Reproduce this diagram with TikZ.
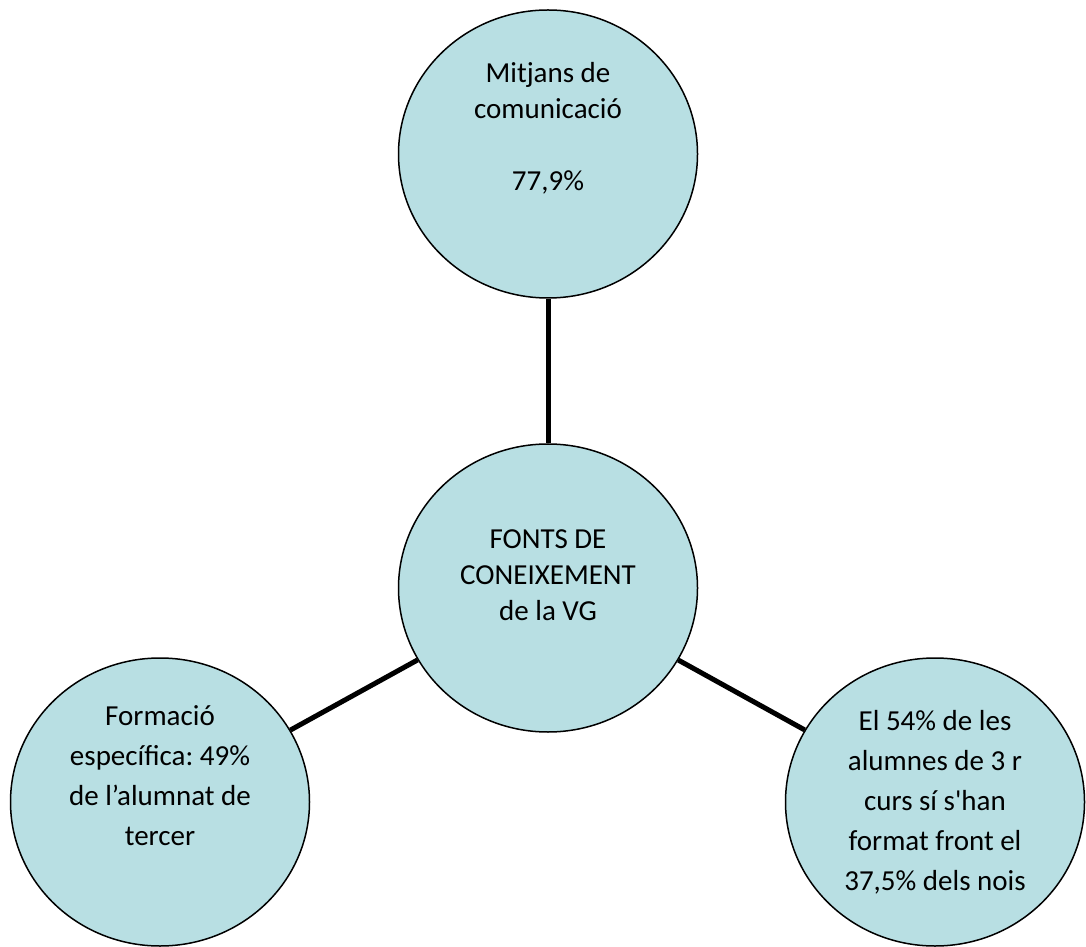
\documentclass[tikz,border=0pt]{standalone}
\usepackage{fontspec}
\setmainfont{Carlito}[Ligatures=TeXOff]
\usetikzlibrary{shapes.geometric}
\definecolor{bubblefill}{HTML}{B8DFE3}
\frenchspacing

\begin{document}
\begin{tikzpicture}[x=1pt,y=1pt,
        bubble/.style={ellipse,draw=black,line width=1.5pt,fill=bubblefill,
            minimum width=299pt,minimum height=288pt,inner sep=0pt,
            align=center,font=\fontsize{29}{36}\selectfont},
        wide/.style={font=\fontsize{29}{40}\selectfont},
        spoke/.style={line width=5pt}]
        \useasboundingbox (0,0) rectangle (1086,946);
        % centre
        \node[bubble] (fonts) at (548,358)
            {FONTS DE\\CONEIXEMENT\\de la VG\\[-20pt]\strut};
        % top
        \node[bubble] (mitjans) at (548,792)
            {Mitjans de\\comunicació\\[36pt]77,9\%\\[8pt]\strut};
        % left hand
        \node[bubble,wide] (formacio) at (160,144)
            {Formació\\específica: 49\%\\de l’alumnat de\\tercer\\\strut};
        % right hand
        \node[bubble,wide] (alumnes) at (935,144)
            {El 54\% de les\\alumnes de 3 r\\curs sí s'han\\format front el\\37,5\% dels nois};
        % spokes
        \draw[spoke] (fonts) -- (mitjans);
        \draw[spoke] (fonts) -- (formacio);
        \draw[spoke] (fonts) -- (alumnes);
    \end{tikzpicture}
\end{document}
